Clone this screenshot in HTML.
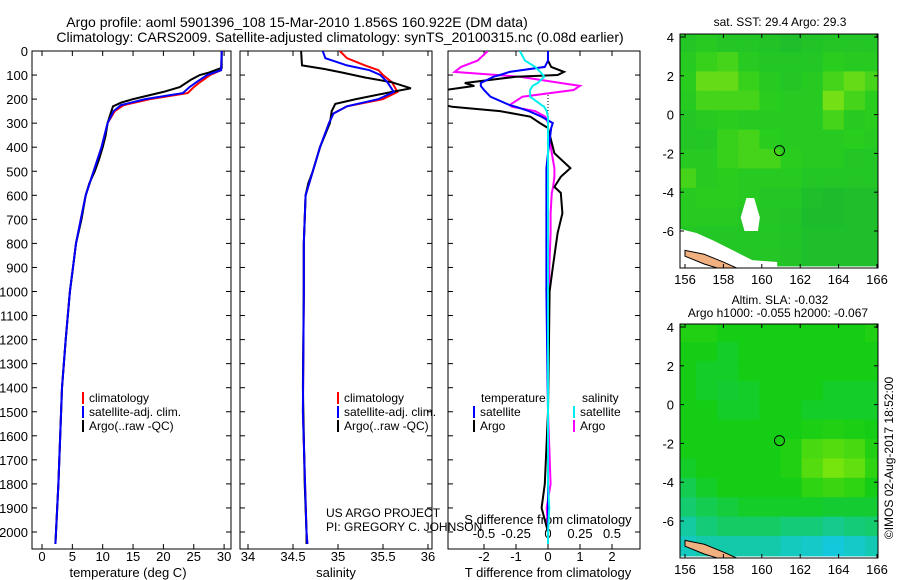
<!DOCTYPE html>
<html><head><meta charset="utf-8"><style>
html,body{margin:0;padding:0;background:#fff;}
svg{display:block;font-family:"Liberation Sans",sans-serif;}
</style></head><body>
<svg id="fig" width="900" height="580" viewBox="0 0 900 580" xmlns="http://www.w3.org/2000/svg">
<text x="297" y="27" font-size="14" text-anchor="middle">Argo profile: aoml 5901396_108 15-Mar-2010 1.856S 160.922E (DM data)</text>
<text x="340" y="42" font-size="14" text-anchor="middle">Climatology: CARS2009. Satellite-adjusted climatology: synTS_20100315.nc (0.08d earlier)</text>
<g id="g"></g>
</svg>
<script>
// ---- data ----
const depthTicks=[0,100,200,300,400,500,600,700,800,900,1000,1100,1200,1300,1400,1500,1600,1700,1800,1900,2000];
const tDepthArgo=[0,70,90,100,120,150,170,200,215,230,260,300,350,400,450,500,550,600,700,800,900,1000,1200,1400,1600,1800,2000,2050];
const tArgo=[29.6,29.6,27.5,26,24.5,22.7,20,15,13,11.7,11.3,10.8,10.5,10.0,9.4,8.7,7.8,7.2,6.5,5.6,5.1,4.6,3.9,3.3,3.0,2.7,2.3,2.2];
const tDepthClim=[0,80,100,130,150,175,200,225,250,300,400,500,600,700,800,900,1000,1200,1400,1600,1800,2000,2050];
const tClim=[29.6,29.5,27.7,26,25,24,17.8,13.5,12,10.8,9.8,8.5,7.2,6.4,5.6,5.1,4.6,3.9,3.3,3.0,2.7,2.3,2.2];
const tSat=[29.6,29.5,27.2,25.4,24.3,23.2,17,13,11.8,10.8,9.8,8.5,7.2,6.4,5.6,5.1,4.6,3.9,3.3,3.0,2.7,2.3,2.2];
const sDepthArgo=[0,60,75,90,110,130,155,170,200,220,250,300,400,500,550,600,800,1000,1400,1800,2000,2050];
const sArgo=[34.59,34.6,34.85,35.05,35.3,35.6,35.81,35.6,35.2,34.97,34.93,34.91,34.8,34.72,34.67,34.64,34.62,34.62,34.61,34.63,34.65,34.65];
const sDepthClim=[0,30,60,80,100,130,170,200,230,260,300,400,500,600,800,1000,1500,2000,2050];
const sClim=[35.02,35.1,35.3,35.45,35.5,35.6,35.66,35.5,35.1,34.95,34.9,34.8,34.72,34.64,34.62,34.62,34.61,34.65,34.66];
const sSat=[34.83,34.86,35.1,35.35,35.47,35.55,35.62,35.45,35.1,34.95,34.9,34.8,34.72,34.64,34.62,34.62,34.61,34.65,34.66];
const dDepth=[0,40,66,87,100,107,133,145,162,190,225,232,250,273,300,320,425,487,523,565,590,675,757,900,1000,1200,1500,1800,1900,2000,2050];
const dTArgo=[0,0,0.1,0.5,0.3,-1,-2.6,-2.3,-3.2,-3.3,-3.2,-3,-1.5,-0.55,-0.25,0,0.2,0.7,0.4,0.2,0.4,0.45,0.3,0.15,0.05,0.03,0,-0.1,-0.2,0,0];
const dTSat=[0,0,-0.1,-1.2,-1.5,-1.7,-2.1,-2.1,-2,-1.8,-1.2,-1,-0.6,-0.2,0.15,0.1,0,-0.05,-0.05,-0.05,-0.05,-0.05,-0.05,-0.05,-0.05,-0.03,0,0,0,0,0];
const dSArgo=[-0.47,-0.55,-0.68,-0.73,-0.4,-0.22,0.1,0.25,0.2,-0.2,-0.3,-0.28,-0.1,-0.02,0,0,0.03,0.05,0.05,0.04,0.03,0.02,0.02,0.01,0.01,0,0,0.02,-0.01,0,0];
const dSSat=[-0.22,-0.18,-0.1,-0.06,-0.04,-0.03,-0.08,-0.12,-0.14,-0.14,-0.05,-0.03,-0.01,0,0,0,0,0,0,0,0,0,0,0,0,0,0,0,0.01,0,0];
const tTicks=[0,5,10,15,20,25,30];
const sTicks=[34,34.5,35,35.5,36];
const sTickLbl=["34","34.5","35","35.5","36"];
const dTTicks=[-2,-1,0,1,2];
const dSTicks=[-0.5,-0.25,0,0.25,0.5];
const dSTickLbl=["-0.5","-0.25","0","0.25","0.5"];
const lonTicks=[156,158,160,162,164,166];
const latTicks=[4,2,0,-2,-4,-6];
// SST heatmap (rows lat 4 -> -8, cols lon 156 -> 166), 0=dark green .. 1=yellow-green
const sstGrid=[
[0.4,0.45,0.4,0.4,0.35,0.3,0.35,0.4,0.4,0.4],
[0.45,0.55,0.6,0.45,0.4,0.4,0.4,0.5,0.45,0.45],
[0.5,0.7,0.7,0.55,0.45,0.4,0.45,0.6,0.7,0.6],
[0.45,0.6,0.6,0.6,0.5,0.45,0.45,0.75,0.6,0.5],
[0.4,0.45,0.5,0.45,0.45,0.45,0.45,0.6,0.45,0.5],
[0.4,0.4,0.55,0.6,0.5,0.45,0.45,0.45,0.5,0.45],
[0.45,0.45,0.55,0.6,0.6,0.5,0.45,0.45,0.4,0.4],
[0.6,0.45,0.5,0.45,0.45,0.45,0.4,0.4,0.4,0.4],
[0.45,0.5,0.5,0.45,0.4,0.4,0.3,0.25,0.3,0.3],
[0.45,0.45,0.45,0.4,0.4,0.35,0.25,0.25,0.3,0.3],
[0.4,0.4,0.4,0.4,0.4,0.35,0.3,0.3,0.3,0.3],
[0.4,0.4,0.4,0.4,0.4,0.35,0.3,0.3,0.3,0.3]];
// SLA heatmap: -1=cyan, 0=green, 1=yellow-green
const slaGrid=[
[0.1,0.1,0,0,0,0,0,0,0,0.1],
[0,0,-0.1,0,0,0,0,0,0,0],
[0,-0.1,-0.1,0,0,0,0,0,0,0],
[0,-0.1,-0.15,-0.1,0,0,0,-0.1,-0.1,-0.1],
[0,0,-0.1,-0.1,0,0,-0.1,-0.1,-0.1,-0.1],
[0,0,0,0,0,0,0.05,0.1,0.05,0],
[0,0,0,0,0,0.1,0.4,0.5,0.4,0.1],
[-0.1,0,0,0,0,0.1,0.5,0.75,0.6,0.2],
[-0.3,-0.1,0,0,0,0,0.2,0.3,0.2,0],
[-0.45,-0.3,-0.2,-0.1,-0.1,-0.1,-0.1,-0.15,-0.15,-0.15],
[-0.7,-0.5,-0.4,-0.4,-0.4,-0.5,-0.5,-0.6,-0.5,-0.45],
[-0.85,-0.75,-0.75,-0.75,-0.75,-0.85,-0.9,-1,-0.9,-0.8]];
// ---- rendering ----
const NS="http://www.w3.org/2000/svg";
const G=document.getElementById('g');
function mk(tag,attrs,parent){const e=document.createElementNS(NS,tag);for(const k in attrs)e.setAttribute(k,attrs[k]);(parent||G).appendChild(e);return e;}
function txt(x,y,s,size,anchor,parent){const e=mk('text',{x:x,y:y,'font-size':size,'text-anchor':anchor||'start'},parent);e.textContent=s;return e;}
const Y0=51,PXD=0.2405,YB=549;
const yD=d=>Y0+d*PXD;
const panels=[{l:32,r:231},{l:240,r:432},{l:448,r:640}];
const xT=v=>42+v*6.07, xS=v=>248+(v-34)*90, xDT=v=>548+v*32, xDS=v=>548+v*128;
const defs=mk('defs',{});
panels.forEach((p,i)=>{const c=mk('clipPath',{id:'cp'+i},defs);mk('rect',{x:p.l,y:Y0,width:p.r-p.l,height:YB-Y0},c);});
panels.forEach((p,i)=>{
 const r=mk('rect',{x:p.l,y:Y0,width:p.r-p.l,height:YB-Y0,fill:'none',stroke:'#000','stroke-width':1});
 
 
 depthTicks.forEach(d=>{mk('line',{x1:p.l,x2:p.l+5,y1:yD(d),y2:yD(d),stroke:'#000'});mk('line',{x1:p.r,x2:p.r-5,y1:yD(d),y2:yD(d),stroke:'#000'});});
});
depthTicks.forEach(d=>{const t=txt(28,yD(d)+5,String(d),13,'end');
 
 });
function xAxis(ticks,lbls,fx,y,top){ticks.forEach((v,i)=>{const x=fx(v);mk('line',{x1:x,x2:x,y1:YB,y2:YB-5,stroke:'#000'});if(top)mk('line',{x1:x,x2:x,y1:Y0,y2:Y0+5,stroke:'#000'});
 const t=txt(x,y,lbls[i],13,'middle');
 
 });}
xAxis(tTicks,tTicks.map(String),xT,561,true);
xAxis(sTicks,sTickLbl,xS,561,true);
xAxis(dTTicks,dTTicks.map(String),xDT,561,false);
dSTicks.forEach((v,i)=>{const x=xDS(v);mk('line',{x1:x,x2:x,y1:Y0,y2:Y0+5,stroke:'#000'});
 const t=txt(x,538,dSTickLbl[i],13,'middle');
 
 });
[[128,'temperature (deg C)','x-axis-title-temperature'],[336,'salinity','x-axis-title-salinity'],[548,'T difference from climatology','x-axis-title-t-diff']].forEach(a=>{const t=txt(a[0],577,a[1],13,'middle');
 
 });
{const t=txt(548,524,'S difference from climatology',13,'middle');
 
 }
{const l=mk('line',{x1:548,x2:548,y1:95,y2:125,stroke:'#000','stroke-dasharray':'1,2'});
 
 }
function series(ds,vs,fx,color,ci,name){
 const pts=ds.map((d,i)=>fx(vs[i]).toFixed(1)+','+yD(d).toFixed(1)).join(' ');
 const e=mk('polyline',{points:pts,fill:'none',stroke:color,'stroke-width':2,'clip-path':'url(#cp'+ci+')'});
 
 }
series(tDepthClim,tClim,xT,'#f00',0,'temp-climatology-line');
series(tDepthArgo,tArgo,xT,'#000',0,'temp-argo-line');
series(tDepthClim,tSat,xT,'#00f',0,'temp-satellite-line');
series(sDepthClim,sClim,xS,'#f00',1,'sal-climatology-line');
series(sDepthArgo,sArgo,xS,'#000',1,'sal-argo-line');
series(sDepthClim,sSat,xS,'#00f',1,'sal-satellite-line');
series(dDepth,dSArgo,xDS,'#f0f',2,'s-diff-argo-line');
series(dDepth,dTArgo,xDT,'#000',2,'t-diff-argo-line');
series(dDepth,dTSat,xDT,'#00f',2,'t-diff-satellite-line');
series(dDepth,dSSat,xDS,'#0ee',2,'s-diff-satellite-line');
function legend(x,y,items,name){const g=mk('g',{});
 
 
 items.forEach((it,i)=>{mk('rect',{x:x,y:y+i*14-10,width:2,height:12,fill:it[0]},g);txt(x+7,y+i*14,it[1],12,'start',g);});}
legend(82,402,[['#f00','climatology'],['#00f','satellite-adj. clim.'],['#000','Argo(..raw -QC)']],'temp-legend');
legend(337,402,[['#f00','climatology'],['#00f','satellite-adj. clim.'],['#000','Argo(..raw -QC)']],'sal-legend');
txt(481,402,'temperature',12);txt(582,402,'salinity',12);
legend(473,416,[['#00f','satellite'],['#000','Argo']],'t-diff-legend');
legend(573,416,[['#0ee','satellite'],['#f0f','Argo']],'s-diff-legend');
txt(326,517,'US ARGO PROJECT',12);txt(326,531,'PI: GREGORY C. JOHNSON',12);
function lerp(a,b,t){return a.map((v,i)=>Math.round(v+(b[i]-v)*t));}
function sstCol(v){const c=v<0.5?lerp([16,170,60],[40,205,30],v*2):lerp([40,205,30],[190,240,10],(v-0.5)*2);return 'rgb('+c.join(',')+')';}
function slaCol(v){const c=v<0?lerp([20,205,20],[20,200,220],-v):lerp([20,205,20],[150,235,10],v);return 'rgb('+c.join(',')+')';}
function drawMap(top,grid,colf,name,title1,title2,land){
 const L=680,R=878,Bt=top+234;
 const xL=lon=>685+(lon-156)*19.2, yL=lat=>top+3+(4-lat)*19.4;
 const cid='mc'+name;const c=mk('clipPath',{id:cid},defs);mk('rect',{x:L,y:top,width:R-L,height:Bt-top},c);
 const g=mk('g',{'clip-path':'url(#'+cid+')'});
 
 
 grid.forEach((row,ri)=>row.forEach((v,ci)=>{
  const cell=mk('rect',{x:xL(155.5+ci*1.1)-0.5,y:yL(4.2-ri)-0.5,width:21.7,height:20.4,fill:colf(v)},g);
  
  
 }));
 if(land){mk('polygon',{points:[L,yL(-5.9),xL(156.6),yL(-6.1),xL(157.5),yL(-6.5),xL(158.5),yL(-7.0),xL(159.5),yL(-7.5),xL(160.8),yL(-7.6),xL(160.8),Bt,L,Bt].join(' '),fill:'#fff'},g);
  mk('polygon',{points:[xL(159.2),yL(-4.3),xL(159.6),yL(-4.3),xL(159.9),yL(-5.3),xL(159.8),yL(-6),xL(159.1),yL(-6),xL(158.9),yL(-5.3)].join(' '),fill:'#fff'},g);}
 mk('polygon',{points:[xL(156),yL(-7),xL(157),yL(-7.2),xL(158),yL(-7.6),xL(158.9),yL(-8),xL(158.3),yL(-8.1),xL(157),yL(-7.7),xL(156),yL(-7.3)].join(' '),fill:'#f0b080',stroke:'#000','stroke-width':1},g);
 mk('rect',{x:L,y:top,width:R-L,height:Bt-top,fill:'none',stroke:'#000'});
 mk('circle',{cx:xL(160.92),cy:yL(-1.856),r:5,fill:'none',stroke:'#000'});
 lonTicks.forEach(v=>{const x=xL(v);mk('line',{x1:x,x2:x,y1:top,y2:top+4,stroke:'#000'});mk('line',{x1:x,x2:x,y1:Bt,y2:Bt-4,stroke:'#000'});txt(x,Bt+16,String(v),13,'middle');});
 latTicks.forEach(v=>{const y=yL(v);mk('line',{x1:L,x2:L+4,y1:y,y2:y,stroke:'#000'});mk('line',{x1:R,x2:R-4,y1:y,y2:y,stroke:'#000'});txt(L-6,y+5,String(v),13,'end');});
 txt(780,top-(title2?20:8),title1,12,'middle');if(title2)txt(778,top-7,title2,12,'middle');
}
drawMap(34,sstGrid,sstCol,'sst-map','sat. SST: 29.4  Argo: 29.3',null,true);
drawMap(324,slaGrid,slaCol,'sla-map','Altim. SLA: -0.032','Argo h1000: -0.055 h2000: -0.067',false);
{const t=txt(0,0,'©IMOS 02-Aug-2017 18:52:00',12,'middle');t.setAttribute('transform','translate(893,458) rotate(-90)');
 
 }
</script>
</body></html>
